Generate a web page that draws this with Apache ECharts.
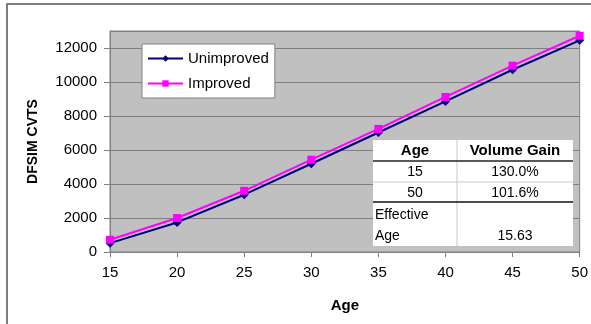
<!DOCTYPE html>
<html>
<head>
<meta charset="utf-8">
<script src="https://cdn.jsdelivr.net/npm/echarts@6/dist/echarts.min.js"></script>
<style>
  html, body { margin: 0; padding: 0; background: #fff; }
  #chart { width: 591px; height: 324px; }
</style>
</head>
<body>
<div id="chart"></div>
<script>
// data
const ages = [15, 20, 25, 30, 35, 40, 45, 50];
const unimproved = [520, 1740, 3370, 5190, 7030, 8860, 10720, 12450];
const improved = [720, 2000, 3600, 5430, 7240, 9120, 10960, 12720];
const tableHeader = ['Age', 'Volume Gain'];
const tableRows = [['15', '130.0%'], ['50', '101.6%']];
const effectiveLabel = ['Effective', 'Age'];
const effectiveAge = '15.63';

const FONT = '"Liberation Sans", Arial, sans-serif';
const chart = echarts.init(document.getElementById('chart'));

// table box (drawn as graphic, it is not data marks)
const tx = 373, ty = 140, tw = 200, colX = 457;
const rowY = [140, 161, 182, 202, 246];
const tableGraphic = [
    { type: 'rect', shape: { x: tx, y: ty, width: tw, height: rowY[4] - ty }, style: { fill: '#fff', stroke: null }, z: 10 },
    { type: 'line', shape: { x1: colX, y1: ty, x2: colX, y2: rowY[4] }, style: { stroke: '#c8c8c8', lineWidth: 1 }, z: 11 },
    { type: 'line', shape: { x1: tx, y1: rowY[1], x2: tx + tw, y2: rowY[1] }, style: { stroke: '#222', lineWidth: 1.5 }, z: 11 },
    { type: 'line', shape: { x1: tx, y1: rowY[2], x2: tx + tw, y2: rowY[2] }, style: { stroke: '#c8c8c8', lineWidth: 1 }, z: 11 },
    { type: 'line', shape: { x1: tx, y1: rowY[3], x2: tx + tw, y2: rowY[3] }, style: { stroke: '#111', lineWidth: 1.5 }, z: 11 },
    { type: 'text', x: (tx + colX) / 2, y: 151, style: { text: tableHeader[0], font: 'bold 15px ' + FONT, fill: '#000', align: 'center', verticalAlign: 'middle' }, z: 12 },
    { type: 'text', x: (colX + tx + tw) / 2, y: 151, style: { text: tableHeader[1], font: 'bold 15px ' + FONT, fill: '#000', align: 'center', verticalAlign: 'middle' }, z: 12 }
];
tableRows.forEach((r, i) => {
    const cy = (rowY[i + 1] + rowY[i + 2]) / 2 + 1;
    tableGraphic.push(
        { type: 'text', x: (tx + colX) / 2, y: cy, style: { text: r[0], font: '14px ' + FONT, fill: '#000', align: 'center', verticalAlign: 'middle' }, z: 12 },
        { type: 'text', x: (colX + tx + tw) / 2, y: cy, style: { text: r[1], font: '14px ' + FONT, fill: '#000', align: 'center', verticalAlign: 'middle' }, z: 12 }
    );
});
tableGraphic.push(
    { type: 'text', x: tx + 2, y: 215, style: { text: effectiveLabel[0], font: '14px ' + FONT, fill: '#000', align: 'left', verticalAlign: 'middle' }, z: 12 },
    { type: 'text', x: tx + 2, y: 236, style: { text: effectiveLabel[1], font: '14px ' + FONT, fill: '#000', align: 'left', verticalAlign: 'middle' }, z: 12 },
    { type: 'text', x: (colX + tx + tw) / 2, y: 236, style: { text: effectiveAge, font: '14px ' + FONT, fill: '#000', align: 'center', verticalAlign: 'middle' }, z: 12 }
);

const option = {
    backgroundColor: '#fff',
    textStyle: { fontFamily: FONT },
    animation: false,
    grid: {
        left: 110, top: 31, right: 11, bottom: 72,
        show: true, backgroundColor: '#c0c0c0', borderColor: '#808080', borderWidth: 1
    },
    legend: {
        orient: 'vertical',
        left: 142, top: 44,
        backgroundColor: '#fff',
        borderColor: '#808080',
        borderWidth: 1,
        borderRadius: 0,
        padding: [7, 6, 7, 5],
        itemWidth: 35, itemHeight: 8, itemGap: 10,
        textStyle: { fontSize: 15, color: '#000', fontFamily: FONT },
        data: ['Unimproved', 'Improved']
    },
    xAxis: {
        type: 'value', min: 15, max: 50, interval: 5,
        name: 'Age', nameLocation: 'middle', nameGap: 46,
        nameTextStyle: { fontSize: 15, fontWeight: 'bold', color: '#000' },
        axisLine: { show: true, lineStyle: { color: '#808080', width: 1 } },
        axisTick: { show: true, length: 5, lineStyle: { color: '#808080' } },
        axisLabel: { fontSize: 15, color: '#000', margin: 13 },
        splitLine: { show: false }
    },
    yAxis: {
        type: 'value', min: 0, max: 13000, interval: 2000,
        name: 'DFSIM CVTS', nameLocation: 'middle', nameGap: 70, nameRotate: 90,
        nameTextStyle: { fontSize: 14, fontWeight: 'bold', color: '#000' },
        axisLine: { show: true, lineStyle: { color: '#808080', width: 1 } },
        axisTick: { show: true, length: 6, lineStyle: { color: '#808080' } },
        axisLabel: { fontSize: 15, color: '#000', margin: 13, showMaxLabel: false,
            formatter: v => (v % 2000 === 0 ? String(v) : '') },
        splitLine: { show: true, lineStyle: { color: '#808080', width: 1 } }
    },
    series: [
        {
            name: 'Unimproved', type: 'line',
            data: ages.map((a, i) => [a, unimproved[i]]),
            symbol: 'diamond', symbolSize: 9,
            lineStyle: { color: '#000080', width: 2 },
            itemStyle: { color: '#000080' }
        },
        {
            name: 'Improved', type: 'line',
            data: ages.map((a, i) => [a, improved[i]]),
            symbol: 'rect', symbolSize: 8,
            lineStyle: { color: '#ff00ff', width: 2 },
            itemStyle: { color: '#ff00ff' }
        }
    ],
    graphic: [
        { type: 'rect', shape: { x: 7, y: 4, width: 600, height: 340 }, style: { fill: null, stroke: '#555', lineWidth: 1.5 }, z: 20 }
    ].concat(tableGraphic)
};
chart.setOption(option);
</script>
</body>
</html>
